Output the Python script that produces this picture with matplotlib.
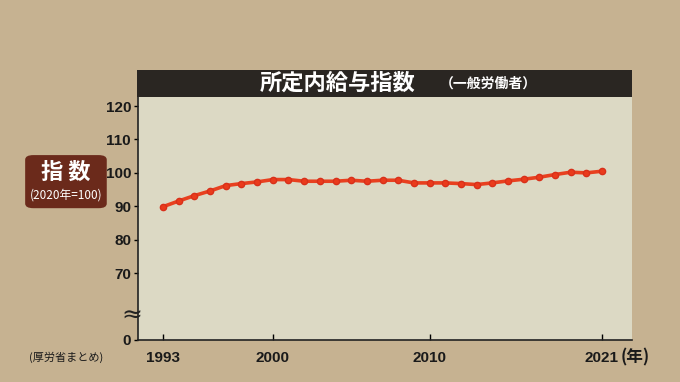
import matplotlib.pyplot as plt
from matplotlib.patches import Rectangle, FancyBboxPatch

years = list(range(1993, 2022))
index = [89.9, 91.6, 93.2, 94.6, 96.2, 96.8, 97.3, 98.0, 98.0, 97.5,
         97.5, 97.5, 97.8, 97.5, 97.8, 97.8, 97.0, 97.0, 97.0, 96.8,
         96.5, 97.0, 97.6, 98.1, 98.7, 99.5, 100.2, 100.0, 100.5]
xticks = [1993, 2000, 2010, 2021]
yticks = [120, 110, 100, 90, 80, 70]

jp = ['Noto Sans CJK JP', 'DejaVu Sans']
num = ['Liberation Sans Narrow', 'Liberation Sans', 'DejaVu Sans']
plt.rcParams['font.family'] = jp

bg = '#c6b291'
fig = plt.figure(figsize=(6.8, 3.82), dpi=100)
fig.patch.set_facecolor(bg)

ax = fig.add_axes([0.203, 0.110, 0.726, 0.636])
ax.set_facecolor('#dcd9c4')
ax.plot(years, index, color='#e8401f', lw=2.6, marker='o', ms=4.5,
        mfc='#ea3b1c', mec='#d8301a', zorder=3)

ax.set_xlim(1991.4, 2022.9)
ax.set_ylim(50, 122.7)
ax.set_yticks(yticks + [50])
ax.set_yticklabels([str(v) for v in yticks] + ['0'], fontfamily=num,
                   fontsize=11, fontweight='bold', color='#1a1a1a')
ax.set_xticks(xticks)
ax.set_xticklabels([str(v) for v in xticks], fontfamily=num,
                   fontsize=11, fontweight='bold', color='#1a1a1a')
ax.tick_params(axis='y', direction='out', length=3, width=1, pad=2)
ax.tick_params(axis='x', direction='in', length=4, width=1, pad=8)
for s in ['top', 'right']:
    ax.spines[s].set_visible(False)
for s in ['left', 'bottom']:
    ax.spines[s].set_color('#222222')
    ax.spines[s].set_linewidth(1.2)

# break mark on y axis
ax.text(-0.012, 0.10, '≈', transform=ax.transAxes, fontsize=18,
        fontfamily='DejaVu Sans', ha='center', va='center', color='#222222')

ax.text(2022.2, 44.9, '(年)', fontsize=12, fontweight='bold',
        ha='left', va='center', color='#1a1a1a', clip_on=False)

# title bar
fig.patches.append(Rectangle((0.201, 0.746), 0.728, 0.072, transform=fig.transFigure,
                             facecolor='#2a2622', edgecolor='none'))
fig.text(0.496, 0.782, '所定内給与指数', fontsize=16, fontweight='bold',
         color='white', ha='center', va='center')
fig.text(0.718, 0.782, '（一般労働者）', fontsize=10, fontweight='bold',
         color='white', ha='center', va='center')

# left label box
fig.patches.append(FancyBboxPatch((0.037, 0.455), 0.12, 0.139,
                                  boxstyle='round,pad=0,rounding_size=0.012',
                                  transform=fig.transFigure,
                                  facecolor='#6b2a1b', edgecolor='none'))
fig.text(0.097, 0.55, '指 数', fontsize=16, fontweight='bold',
         color='white', ha='center', va='center')
fig.text(0.097, 0.49, '(2020年=100)', fontsize=8.5,
         color='white', ha='center', va='center')

fig.text(0.097, 0.065, '(厚労省まとめ)', fontsize=8, color='#1a1a1a',
         ha='center', va='center')

fig.savefig('out.png', dpi=100, facecolor=bg)
